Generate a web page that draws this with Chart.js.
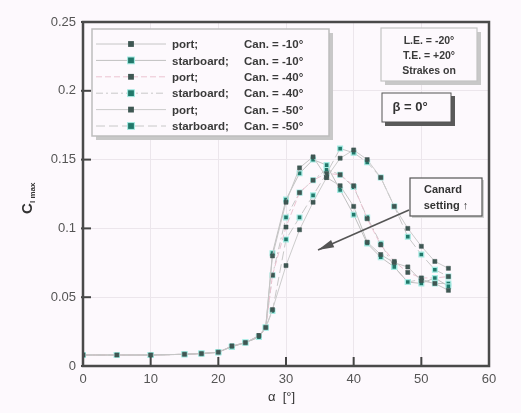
<!DOCTYPE html>
<html>
<head>
<meta charset="utf-8">
<script src="https://cdn.jsdelivr.net/npm/chart.js@4.4.1/dist/chart.umd.min.js"></script>
<style>
html,body{margin:0;padding:0;background:#fdf9fd;}
#wrap{width:521px;height:413px;position:relative;}
</style>
</head>
<body>
<div id="wrap"><canvas id="c" width="521" height="413"></canvas></div>
<script>
// ---- data ----
const alpha = [0,5,10,15,17.5,20,22,24,26,27,28,30,32,34,36,38,40,42,44,46,48,50,52,54];
const portM10 = [0.008,0.008,0.008,0.0085,0.009,0.010,0.0145,0.017,0.022,0.028,0.080,0.119,0.144,0.152,0.137,0.131,0.116,0.090,0.081,0.075,0.072,0.062,0.060,0.055];
const stbdM10 = [0.008,0.008,0.008,0.0085,0.009,0.010,0.014,0.017,0.021,0.028,0.082,0.121,0.140,0.150,0.146,0.128,0.110,0.089,0.079,0.072,0.061,0.060,0.064,0.058];
const portM40 = [0.008,0.008,0.008,0.0085,0.009,0.010,0.0145,0.017,0.022,0.028,0.066,0.101,0.126,0.135,0.140,0.139,0.131,0.107,0.088,0.076,0.068,0.064,0.064,0.065];
const stbdM40 = [0.008,0.008,0.008,0.0085,0.009,0.010,0.014,0.017,0.021,0.028,0.066,0.108,0.126,0.135,0.143,0.139,0.130,0.108,0.089,0.072,0.061,0.063,0.060,0.060];
const portM50 = [0.008,0.008,0.008,0.0085,0.009,0.010,0.0145,0.017,0.022,0.028,0.041,0.073,0.099,0.119,0.137,0.151,0.157,0.150,0.137,0.116,0.100,0.087,0.076,0.071];
const stbdM50 = [0.008,0.008,0.008,0.0085,0.009,0.010,0.014,0.017,0.021,0.028,0.040,0.092,0.108,0.124,0.140,0.158,0.155,0.148,0.137,0.116,0.094,0.081,0.070,0.065];
const seriesSide = ['port;','starboard;','port;','starboard;','port;','starboard;'];
const seriesCan = ['Can. = -10°','Can. = -10°','Can. = -40°','Can. = -40°','Can. = -50°','Can. = -50°'];
const seriesValues = [portM10, stbdM10, portM40, stbdM40, portM50, stbdM50];
const xTicks = [0,10,20,30,40,50,60];
const yTicks = [0,0.05,0.1,0.15,0.2,0.25];
const infoLines = ['L.E. = -20°','T.E. = +20°','Strakes on'];

// ---- styles ----
const portFill = '#3f5753', stbdFill = '#21786a';
const lineStyles = [
  {color:'#c6c6c6', dash:[]},
  {color:'#c0c0c0', dash:[]},
  {color:'#ebc3d1', dash:[6,3]},
  {color:'#c8c8c8', dash:[7,3,2,3]},
  {color:'#cccccc', dash:[]},
  {color:'#c8c8c8', dash:[9,4]}
];

const datasets = seriesValues.map((vals,i)=>{
  const stbd = i%2===1;
  return {
    label: seriesSide[i]+' '+seriesCan[i],
    data: alpha.map((a,k)=>({x:a,y:vals[k]})),
    showLine:true,
    borderColor: lineStyles[i].color,
    borderDash: lineStyles[i].dash,
    borderWidth: 1,
    tension: 0,
    pointStyle:'rect',
    pointRadius: stbd?3.4:2.9,
    pointBackgroundColor: stbd?stbdFill:portFill,
    pointBorderColor: stbd?'#a6ece4':portFill,
    pointBorderWidth: stbd?1.2:0.5
  };
});

function fmt(v){ return String(Number(v.toFixed(2))); }

const decor = {
  id:'decor',
  beforeDraw(chart){
    const ctx=chart.ctx;
    ctx.save();
    ctx.fillStyle='#fdf9fd';
    ctx.fillRect(0,0,chart.width,chart.height);
    ctx.restore();
  },
  afterDraw(chart){
    const ctx=chart.ctx, a=chart.chartArea;
    const xs=chart.scales.x, ys=chart.scales.y;
    ctx.save();
    // ticks inside
    ctx.strokeStyle='#444'; ctx.lineWidth=2;
    xTicks.forEach(t=>{const px=xs.getPixelForValue(t); ctx.beginPath(); ctx.moveTo(px,a.bottom); ctx.lineTo(px,a.bottom-9); ctx.stroke();});
    yTicks.forEach(t=>{const py=ys.getPixelForValue(t); ctx.beginPath(); ctx.moveTo(a.left-2,py); ctx.lineTo(a.left+8,py); ctx.stroke();});
    // border
    ctx.strokeStyle='#4a4a4a'; ctx.lineWidth=2.5;
    ctx.strokeRect(a.left,a.top,a.right-a.left,a.bottom-a.top);

    // axis titles
    ctx.fillStyle='#333';
    ctx.font='13px "Liberation Sans", Arial, sans-serif';
    ctx.textBaseline='middle'; ctx.textAlign='left';
    ctx.fillText('α  [°]', 268, 397);
    ctx.save();
    ctx.translate(28,214); ctx.rotate(-Math.PI/2);
    ctx.font='bold 15px "Liberation Sans", Arial, sans-serif';
    ctx.textAlign='left';
    ctx.fillText('C',0,0);
    ctx.font='bold 8px "Liberation Sans", Arial, sans-serif';
    ctx.fillText('l max',11,5);
    ctx.restore();

    // legend box
    const lx=92, ly=29, lw=237, lh=107;
    ctx.fillStyle='#c8c8c8';
    ctx.fillRect(lx+4,ly+4,lw,lh);
    ctx.fillStyle='#fdf9fd';
    ctx.fillRect(lx,ly,lw,lh);
    ctx.strokeStyle='#bdbdbd'; ctx.lineWidth=1.5;
    ctx.strokeRect(lx,ly,lw,lh);
    datasets.forEach((d,i)=>{
      const y=ly+15+i*16.4;
      ctx.strokeStyle=d.borderColor; ctx.lineWidth=1; ctx.setLineDash(d.borderDash);
      ctx.beginPath(); ctx.moveTo(lx+4,y); ctx.lineTo(lx+74,y); ctx.stroke();
      ctx.setLineDash([]);
      const r=d.pointRadius;
      ctx.fillStyle=d.pointBackgroundColor;
      ctx.fillRect(lx+39-r,y-r,2*r,2*r);
      if(i%2===1){ctx.strokeStyle=d.pointBorderColor; ctx.lineWidth=1; ctx.strokeRect(lx+39-r,y-r,2*r,2*r);}
      ctx.fillStyle='#3a3a3a';
      ctx.font='bold 11.5px "Liberation Sans", Arial, sans-serif';
      ctx.textAlign='left'; ctx.textBaseline='middle';
      ctx.fillText(seriesSide[i], 172, y+1);
      ctx.fillText(seriesCan[i], 244, y+1);
    });

    // info box
    ctx.fillStyle='#c8c8c8'; ctx.fillRect(385,32,96,53);
    ctx.fillStyle='#fdf9fd'; ctx.fillRect(381,28,96,53);
    ctx.strokeStyle='#c4c4c4'; ctx.lineWidth=1.2; ctx.strokeRect(381,28,96,53);
    ctx.fillStyle='#3a3a3a';
    ctx.font='bold 10.5px "Liberation Sans", Arial, sans-serif';
    ctx.textAlign='center';
    infoLines.forEach((t,i)=>ctx.fillText(t,429,41+i*15));

    // beta box
    ctx.fillStyle='#5a5a5a'; ctx.fillRect(385,96,70,30);
    ctx.fillStyle='#fdf9fd'; ctx.fillRect(382,93,69,29);
    ctx.strokeStyle='#555'; ctx.lineWidth=1; ctx.strokeRect(382,93,69,29);
    ctx.fillStyle='#333';
    ctx.font='bold 13px "Liberation Sans", Arial, sans-serif';
    ctx.textAlign='center';
    ctx.fillText('β = 0°',410,107);

    // canard box
    ctx.fillStyle='#d0d0d0'; ctx.fillRect(412,180,72,38);
    ctx.fillStyle='#fdf9fd'; ctx.fillRect(410,178,72,38);
    ctx.strokeStyle='#555'; ctx.lineWidth=1.2; ctx.strokeRect(410,178,72,38);
    ctx.fillStyle='#333';
    ctx.font='bold 11px "Liberation Sans", Arial, sans-serif';
    ctx.textAlign='center';
    ctx.fillText('Canard',443,190);
    ctx.fillText('setting ↑',446,206);

    // arrow
    ctx.strokeStyle='#555'; ctx.lineWidth=1.6;
    ctx.beginPath(); ctx.moveTo(409,210); ctx.lineTo(318,250); ctx.stroke();
    ctx.fillStyle='#555';
    ctx.beginPath();
    const ang=Math.atan2(250-210,318-409);
    ctx.moveTo(318,250);
    ctx.lineTo(318-16*Math.cos(ang)+4*Math.sin(ang),250-16*Math.sin(ang)-4*Math.cos(ang));
    ctx.lineTo(318-16*Math.cos(ang)-4*Math.sin(ang),250-16*Math.sin(ang)+4*Math.cos(ang));
    ctx.closePath(); ctx.fill();
    ctx.restore();
  }
};

new Chart(document.getElementById('c'),{
  type:'scatter',
  data:{datasets},
  plugins:[decor],
  options:{
    responsive:false,
    animation:false,
    layout:{padding:{left:0,top:22,right:32,bottom:0}},
    plugins:{legend:{display:false},tooltip:{enabled:false}},
    scales:{
      x:{
        type:'linear', min:0, max:60,
        afterBuildTicks(s){ s.ticks = xTicks.map(v=>({value:v})); },
        afterFit(s){ s.height = 47; },
        grid:{color:'#ece6ec', drawTicks:false, lineWidth:1},
        border:{display:false},
        ticks:{padding:6, color:'#555', font:{family:'"Liberation Sans", Arial, sans-serif', size:13}, maxRotation:0, callback:v=>fmt(v)}
      },
      y:{
        type:'linear', min:0, max:0.25,
        afterBuildTicks(s){ s.ticks = yTicks.map(v=>({value:v})); },
        afterFit(s){ s.width = 83; },
        grid:{color:'#ece6ec', drawTicks:false, lineWidth:1},
        border:{display:false},
        ticks:{padding:7, color:'#555', font:{family:'"Liberation Sans", Arial, sans-serif', size:13}, callback:v=>fmt(v)}
      }
    }
  }
});
</script>
</body>
</html>
